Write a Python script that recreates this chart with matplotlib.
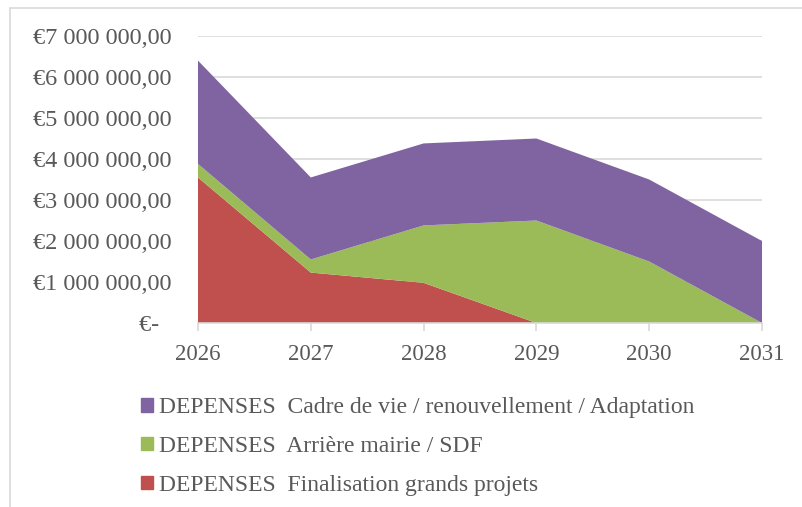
import matplotlib.pyplot as plt
from matplotlib.patches import Patch, Rectangle
from matplotlib.ticker import FuncFormatter

plt.rcParams['font.family'] = ['Liberation Serif', 'DejaVu Serif']
plt.rcParams['font.size'] = 17

years = [2026, 2027, 2028, 2029, 2030, 2031]
grands_projets = [3550000, 1230000, 980000, 0, 0, 0]
arriere_mairie = [330000, 320000, 1400000, 2500000, 1500000, 0]
cadre_de_vie = [2520000, 2000000, 2000000, 2000000, 2000000, 2000000]

labels = ['DEPENSES  Finalisation grands projets',
          'DEPENSES  Arrière mairie / SDF',
          'DEPENSES  Cadre de vie / renouvellement / Adaptation']
colors = ['#C0504D', '#9BBB59', '#8064A2']
text_col = '#595959'
grid_col = '#D9D9D9'


def euro(v, pos=None):
    if v == 0:
        return '€-  '
    s = f'{int(v):,}'.replace(',', ' ')
    return '€' + s + ',00'


fig = plt.figure(figsize=(8.03, 5.07), dpi=100)
ax = fig.add_axes([198 / 803, 1 - 323 / 507, (762 - 198) / 803, (323 - 36) / 507])

ax.stackplot(years, grands_projets, arriere_mairie, cadre_de_vie,
             colors=colors, linewidth=0, zorder=2)

ax.set_xlim(2026, 2031)
ax.set_ylim(0, 7000000)
ax.set_yticks(range(0, 7000001, 1000000))
ax.yaxis.set_major_formatter(FuncFormatter(euro))
ax.set_xticks(years)
ax.grid(axis='y', color=grid_col, linewidth=1.2, zorder=0)
ax.set_axisbelow(True)

for sp in ['top', 'right', 'left']:
    ax.spines[sp].set_visible(False)
ax.spines['bottom'].set_color(grid_col)
ax.spines['bottom'].set_linewidth(1.2)
ax.spines['bottom'].set_zorder(3)
ax.tick_params(axis='y', length=0, pad=19, colors=text_col, labelsize=17.5)
ax.tick_params(axis='x', length=6, width=1.2, color=grid_col, pad=9,
               labelcolor=text_col, labelsize=16.5)

handles = [Patch(color=c) for c in colors]
leg = fig.legend(handles[::-1], labels[::-1], loc='upper left',
                 bbox_to_anchor=(120 / 803, 1 - 376 / 507), frameon=False,
                 handlelength=0.5, handleheight=0.5, handletextpad=0.25,
                 labelspacing=0.75, labelcolor=text_col, fontsize=17)

# outer frame of the chart object
fig.add_artist(Rectangle((10 / 803, -0.1), 1.1, 1.1 - 8 / 507,
                         transform=fig.transFigure, fill=False,
                         edgecolor=grid_col, linewidth=1.2))

fig.savefig('out.png', dpi=100)
